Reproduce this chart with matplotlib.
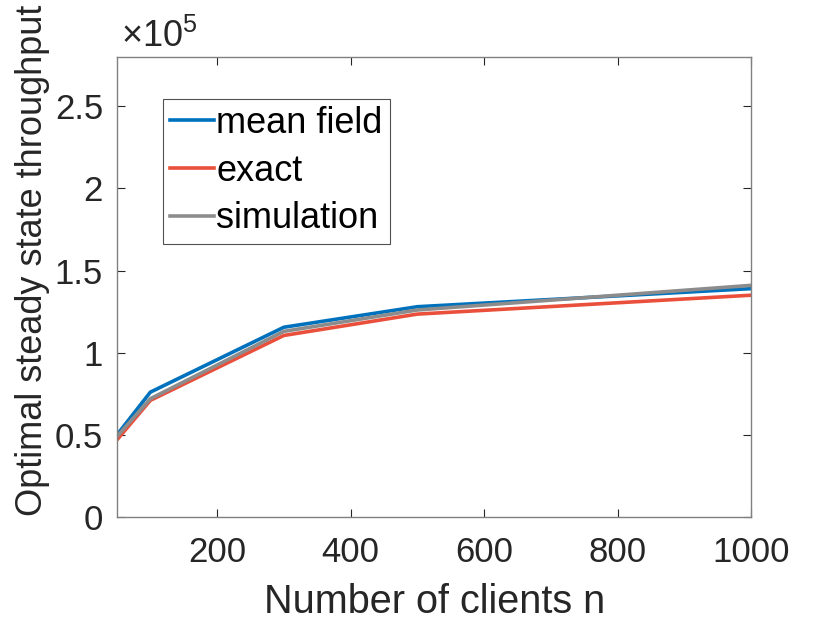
import matplotlib
matplotlib.use("Agg")
import matplotlib.pyplot as plt
from matplotlib.ticker import FuncFormatter

plt.rcParams['font.family'] = ['Liberation Sans', 'DejaVu Sans']
plt.rcParams['mathtext.fontset'] = 'custom'
plt.rcParams['mathtext.rm'] = 'Liberation Sans'

n_clients = [50, 100, 300, 500, 1000]
mean_field = [0.50e5, 0.76e5, 1.155e5, 1.28e5, 1.39e5]
exact = [0.47e5, 0.71e5, 1.105e5, 1.235e5, 1.35e5]
simulation = [0.49e5, 0.72e5, 1.13e5, 1.26e5, 1.41e5]

xticks = [200, 400, 600, 800, 1000]
yticks = [0, 0.5e5, 1e5, 1.5e5, 2e5, 2.5e5]

fig = plt.figure(figsize=(8.3, 6.23), dpi=100)
ax = fig.add_axes([117/830, 1-517/623, (751-117)/830, (517-57)/623])

ax.plot(n_clients, mean_field, color='#0072BD', lw=2.6, label='mean field')
ax.plot(n_clients, exact, color='#EA4F3B', lw=2.6, label='exact')
ax.plot(n_clients, simulation, color='#8C8C8C', lw=2.6, label='simulation')

ax.set_xlim(50, 1000)
ax.set_ylim(0, 2.8e5)
ax.set_xticks(xticks)
ax.set_yticks(yticks)
ax.yaxis.set_major_formatter(FuncFormatter(lambda v, p: f"{v/1e5:g}"))
ax.tick_params(direction='in', top=True, right=True, labelsize=25, colors='#262626',
               length=6, width=0.8)
ax.tick_params(axis='x', pad=14)
ax.tick_params(axis='y', pad=10)
for s in ax.spines.values():
    s.set_color('#808080')
    s.set_linewidth(1.0)

ax.set_xlabel('Number of clients n', fontsize=28.5, color='#262626')
ax.set_ylabel('Optimal steady state throughput', fontsize=26, color='#262626')
ax.xaxis.set_label_coords(0.5016, -0.144)
ax.yaxis.set_label_coords(-0.105, 0.559)
ax.text(0.006, 1.022, r'$\times$10$^5$', transform=ax.transAxes, fontsize=26,
        color='#262626', ha='left', va='baseline')

leg = ax.legend(loc='upper left', bbox_to_anchor=(0.0726, 0.909), fontsize=26,
                frameon=True, fancybox=False, edgecolor='#262626', handlelength=1.2,
                handletextpad=0.08, borderpad=0.2, borderaxespad=0, labelspacing=0.35)
leg.get_frame().set_linewidth(0.8)

fig.savefig('out.png', dpi=100)
